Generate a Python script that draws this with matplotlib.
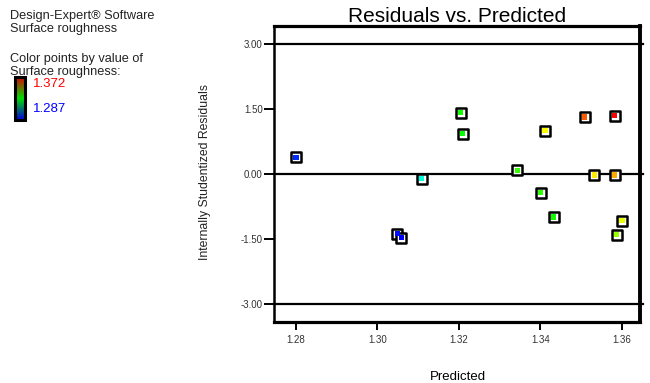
import matplotlib
matplotlib.use("Agg")
import matplotlib.pyplot as plt
from matplotlib.colors import LinearSegmentedColormap, Normalize
from matplotlib.cm import ScalarMappable


plt.rcParams["font.family"] = ["Liberation Sans", "DejaVu Sans"]

# predicted value, internally studentized residual, actual surface roughness
predicted = [1.2800, 1.3049, 1.3059, 1.3109, 1.3205, 1.3210, 1.3344, 1.3412,
             1.3509, 1.3583, 1.3401, 1.3533, 1.3583, 1.3433, 1.3601, 1.3588]
residuals = [0.39, -1.38, -1.47, -0.11, 1.42, 0.93, 0.085, 1.00,
             1.32, 1.35, -0.43, -0.02, -0.02, -0.99, -1.08, -1.40]
roughness = [1.290, 1.288, 1.287, 1.308, 1.331, 1.330, 1.334, 1.350,
             1.366, 1.372, 1.333, 1.352, 1.360, 1.331, 1.348, 1.342]

r_min, r_max = 1.287, 1.372
x_ticks = [1.28, 1.30, 1.32, 1.34, 1.36]
y_ticks = [-3.00, -1.50, 0.00, 1.50, 3.00]
limit_lines = [3.0, 0.0, -3.0]


def main():
    fig = plt.figure(figsize=(6.5, 3.83), dpi=100)

    # point colours
    pts_cmap = LinearSegmentedColormap.from_list(
        "pts", [(0.0, "#0000ff"), (0.21, "#00ffff"), (0.5, "#00ff00"),
                (0.74, "#ffff00"), (0.88, "#ff9900"), (1.0, "#ff0000")])
    norm = Normalize(r_min, r_max)

    ax = fig.add_axes([0.4215, 0.159, 0.563, 0.773])
    ax.set_xlim(1.2746, 1.3645)
    ax.set_ylim(-3.42, 3.42)

    for y in limit_lines:
        ax.axhline(y, xmin=0, xmax=1.008, color="black", lw=1.6, clip_on=False, zorder=2)

    ax.scatter(predicted, residuals, marker="s", s=42, facecolor="white",
               edgecolor="black", linewidths=1.8, zorder=3)
    ax.scatter(predicted, residuals, marker="s", s=14, c=roughness, cmap=pts_cmap,
               norm=norm, linewidths=0, zorder=4)

    for side, w in [("top", 2.3), ("right", 2.8), ("bottom", 2.3), ("left", 1.8)]:
        ax.spines[side].set_linewidth(w)

    ax.set_xticks(x_ticks)
    ax.set_xticklabels([f"{v:.2f}" for v in x_ticks])
    ax.set_yticks(y_ticks)
    ax.set_yticklabels([f"{v:.2f}" for v in y_ticks])
    ax.tick_params(axis="both", direction="out", width=1.4, labelsize=7,
                   labelcolor="#333333")
    ax.tick_params(axis="x", length=6, pad=3)
    ax.tick_params(axis="y", length=7, pad=1)

    ax.set_title("Residuals vs. Predicted", fontsize=15, pad=-1)
    fig.text(0.705, 0.015, "Predicted", fontsize=9.5, ha="center", va="center")
    fig.text(0.316, 0.55, "Internally Studentized Residuals", fontsize=8.8,
             rotation=90, ha="center", va="center", color="#222222")

    # legend text block on the left
    fig.text(0.015, 0.974, "Design-Expert\u00ae Software\nSurface roughness",
             fontsize=9.2, va="top", linespacing=1.15, color="#222222")
    fig.text(0.015, 0.862, "Color points by value of\nSurface roughness:",
             fontsize=9.2, va="top", linespacing=1.15, color="#222222")

    bar_cmap = LinearSegmentedColormap.from_list(
        "bar", ["#0000dd", "#00dd00", "#dd0000"])
    cax = fig.add_axes([0.023, 0.687, 0.016, 0.113])
    cb = fig.colorbar(ScalarMappable(norm=norm, cmap=bar_cmap), cax=cax)
    cb.set_ticks([])
    cb.outline.set_linewidth(2.2)
    fig.text(0.051, 0.781, f"{r_max:.3f}", color="red", fontsize=9.5, va="center")
    fig.text(0.051, 0.716, f"{r_min:.3f}", color="blue", fontsize=9.5, va="center")

    fig.savefig("out.png", dpi=100)


if __name__ == "__main__":
    main()
